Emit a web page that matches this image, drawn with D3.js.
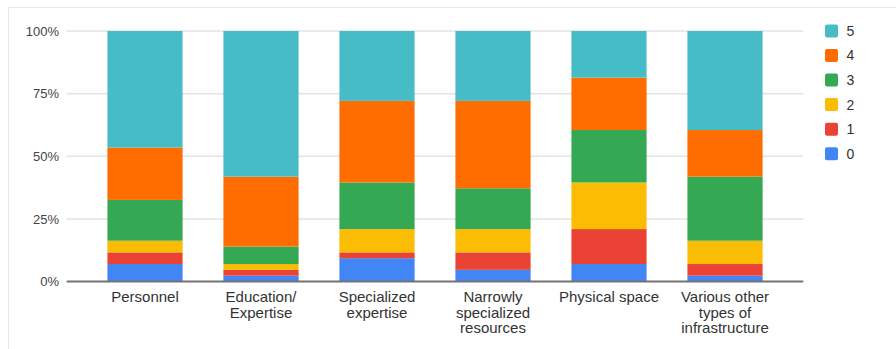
<!DOCTYPE html>
<html>
<head>
<meta charset="utf-8">
<script src="https://cdn.jsdelivr.net/npm/d3@7"></script>
<style>
  html, body { margin: 0; padding: 0; background: #fff; }
  svg { display: block; font-family: "Liberation Sans", Arial, sans-serif; }
</style>
</head>
<body>
<svg id="chart" width="896" height="349"></svg>
<script>
// Categories (x axis)
const categories = [
  "Personnel",
  "Education/\nExpertise",
  "Specialized\nexpertise",
  "Narrowly\nspecialized\nresources",
  "Physical space",
  "Various other\ntypes of\ninfrastructure"
];
// Series keys (rating levels), bottom to top
const levels = ["0", "1", "2", "3", "4", "5"];
// Response counts per level, one value per category
const level0 = [3, 1, 4, 2, 3, 1];
const level1 = [2, 1, 1, 3, 6, 2];
const level2 = [2, 1, 4, 4, 8, 4];
const level3 = [7, 3, 8, 7, 9, 11];
const level4 = [9, 12, 14, 15, 9, 8];
const level5 = [20, 25, 12, 12, 8, 17];
const yTicks = [0, 0.25, 0.5, 0.75, 1];
const colors = ["#4285F4", "#EA4335", "#FBBC04", "#34A853", "#FF6D01", "#46BDC6"];

const seriesValues = [level0, level1, level2, level3, level4, level5];
const rows = categories.map((c, i) => {
  const r = { category: c };
  levels.forEach((k, j) => r[k] = seriesValues[j][i]);
  return r;
});

const svg = d3.select("#chart");

// card border
svg.append("line").attr("x1", 8).attr("x2", 896).attr("y1", 7.5).attr("y2", 7.5)
  .attr("stroke", "#e6e6e6").attr("stroke-width", 1);
svg.append("line").attr("x1", 8.5).attr("x2", 8.5).attr("y1", 7).attr("y2", 349)
  .attr("stroke", "#e6e6e6").attr("stroke-width", 1);

const plotLeft = 66.7, plotRight = 803.3;
const y = d3.scaleLinear().domain([0, 1]).range([281.5, 31]);
const x = d3.scaleBand().domain(categories).range([87, 783])
  .paddingInner(0.352).paddingOuter(0.176);

// gridlines
svg.append("g").selectAll("line").data(yTicks.filter(t => t > 0)).join("line")
  .attr("x1", plotLeft).attr("x2", plotRight)
  .attr("y1", d => y(d)).attr("y2", d => y(d))
  .attr("stroke", "#e3e3e3").attr("stroke-width", 1.5);

// y axis labels
const yAxis = d3.axisLeft(y).tickValues(yTicks).tickFormat(d3.format(".0%"))
  .tickSize(0).tickPadding(0);
const gy = svg.append("g").attr("transform", `translate(59,0)`).call(yAxis);
gy.select(".domain").remove();
gy.selectAll("text").attr("font-size", 13).attr("fill", "#444")
  .attr("font-family", "Liberation Sans, Arial, sans-serif");

// stacked bars
const stack = d3.stack().keys(levels).offset(d3.stackOffsetExpand);
const series = stack(rows);
svg.append("g").selectAll("g").data(series).join("g")
  .attr("fill", (d, i) => colors[i])
  .selectAll("rect").data(d => d).join("rect")
  .attr("x", d => x(d.data.category))
  .attr("width", x.bandwidth())
  .attr("y", d => y(d[1]))
  .attr("height", d => y(d[0]) - y(d[1]));

// baseline
svg.append("line").attr("x1", plotLeft).attr("x2", plotRight)
  .attr("y1", y(0)).attr("y2", y(0))
  .attr("stroke", "#737373").attr("stroke-width", 2);

// x axis labels
const xAxis = d3.axisBottom(x).tickSize(0).tickPadding(0);
const gx = svg.append("g").attr("transform", `translate(0,${y(0)})`).call(xAxis);
gx.select(".domain").remove();
gx.selectAll("text").each(function(d) {
  const t = d3.select(this);
  t.text(null).attr("y", 0).attr("dy", null)
    .attr("font-size", 15).attr("fill", "#333")
    .attr("font-family", "Liberation Sans, Arial, sans-serif");
  d.split("\n").forEach((line, i) => {
    t.append("tspan").attr("x", 0).attr("y", 20.5 + i * 15.7).text(line);
  });
});

// legend
const legendKeys = levels.slice().reverse();
const lg = svg.append("g");
const ly = d3.scalePoint().domain(legendKeys).range([31, 153.7]);
legendKeys.forEach(k => {
  const idx = levels.indexOf(k);
  lg.append("rect").attr("x", 825).attr("y", ly(k) - 6.5)
    .attr("width", 13).attr("height", 13).attr("rx", 2)
    .attr("fill", colors[idx]);
  lg.append("text").attr("x", 846.5).attr("y", ly(k)).attr("dy", "0.35em")
    .attr("font-size", 14).attr("fill", "#333").text(k);
});
</script>
</body>
</html>
